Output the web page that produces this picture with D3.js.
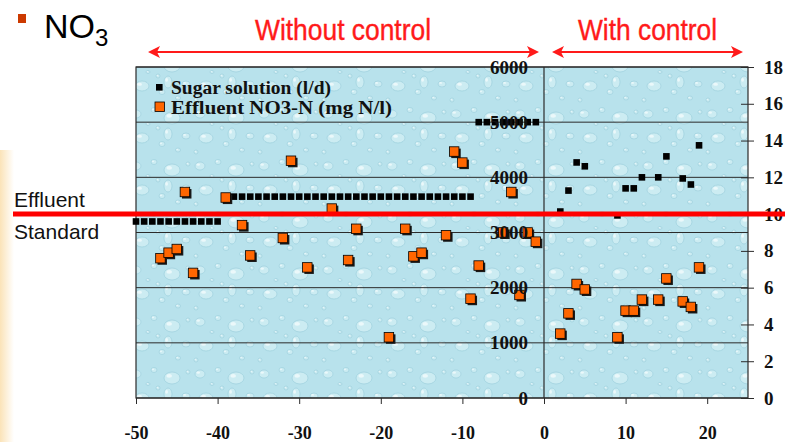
<!DOCTYPE html>
<html>
<head>
<meta charset="utf-8">
<script src="https://cdn.jsdelivr.net/npm/d3@7/dist/d3.min.js"></script>
<style>
    body { margin: 0; background: #fff; }
    svg { display: block; }
</style>
</head>
<body>
<svg id="chart" width="785" height="442"></svg>
<script>
// tick labels
var xTicks = [-50, -40, -30, -20, -10, 0, 10, 20];
var sugarTicks = [0, 1000, 2000, 3000, 4000, 5000, 6000];
var no3Ticks = [0, 2, 4, 6, 8, 10, 12, 14, 16, 18];

// sugar solution dosing (l/d), left axis
var sugarDays = [
    -50, -49, -48, -47, -46, -45, -44, -43, -42, -41, -40,
    -39, -38, -37, -36, -35, -34, -33, -32, -31, -30, -29, -28, -27, -26, -25,
    -24, -23, -22, -21, -20, -19, -18, -17, -16, -15, -14, -13, -12, -11, -10, -9,
    -8, -7, -6, -5, -4, -3, -2, -1,
    2, 3, 4, 5, 9, 10, 11, 12, 14, 15, 17, 18, 19
];
var sugarValues = [
    3200, 3200, 3200, 3200, 3200, 3200, 3200, 3200, 3200, 3200, 3200,
    3650, 3650, 3650, 3650, 3650, 3650, 3650, 3650, 3650, 3650, 3650, 3650, 3650, 3650, 3650,
    3650, 3650, 3650, 3650, 3650, 3650, 3650, 3650, 3650, 3650, 3650, 3650, 3650, 3650, 3650, 3650,
    5000, 5000, 5000, 5000, 5000, 5000, 5000, 5000,
    3380, 3760, 4270, 4200, 3310, 3800, 3800, 4000, 4000, 4380, 3980, 3870, 4580
];

// effluent NO3-N (mg N/l), right axis
var no3Days = [
    -47, -46, -45, -44, -43, -39, -37, -36, -32, -31, -29, -26, -24, -23, -19, -17,
    -16, -15, -12, -11, -10, -9, -8, -5, -4, -3, -2, -1,
    2, 3, 4, 5, 9, 10, 11, 12, 14, 15, 17, 18, 19
];
var no3Values = [
    7.6, 7.9, 8.1, 11.2, 6.8, 10.9, 9.4, 7.75, 8.7, 12.9, 7.1, 10.3, 7.5, 9.2, 3.3, 9.2,
    7.7, 7.9, 8.85, 13.4, 12.8, 5.4, 7.2, 9.0, 11.2, 5.6, 9.0, 8.5,
    3.5, 4.6, 6.2, 5.9, 3.3, 4.75, 4.75, 5.35, 5.35, 6.5, 5.25, 4.95, 7.1
];

var effluentStandard = 10;

var svg = d3.select('#chart'),
    serif = '"Liberation Serif", "Times New Roman", serif',
    sans = '"Liberation Sans", Arial, sans-serif',
    plotL = 136, plotR = 748, plotT = 67, plotB = 398;

var x = d3.scaleLinear().domain([-50, 25]).range([plotL, plotR]),
    yL = d3.scaleLinear().domain([0, 6000]).range([plotB, plotT]),
    yR = d3.scaleLinear().domain([0, 18]).range([plotB, plotT]);

var defs = svg.append('defs');

// faint slide background at the left edge
var lg = defs.append('linearGradient').attr('id', 'edge').attr('x1', 0).attr('x2', 1);
lg.append('stop').attr('offset', 0).attr('stop-color', '#fbe3b8');
lg.append('stop').attr('offset', 1).attr('stop-color', '#ffffff');
svg.append('rect').attr('x', 0).attr('y', 150).attr('width', 14).attr('height', 292)
    .attr('fill', 'url(#edge)');

// water drop texture for the plot area
var pat = defs.append('pattern').attr('id', 'drops')
    .attr('patternUnits', 'userSpaceOnUse').attr('width', 64).attr('height', 52);
pat.append('rect').attr('width', 64).attr('height', 52).attr('fill', '#b8e2ec');
[[8, 10, 5, 4], [26, 6, 3, 2.5], [44, 14, 8, 6], [58, 32, 4, 3], [14, 34, 7, 5],
 [34, 40, 3, 2.5], [50, 46, 2.5, 2], [4, 48, 2, 2], [30, 24, 2, 2], [20, 20, 2, 1.5],
 [40, 30, 4, 6], [60, 8, 2, 2]]
    .forEach(function (d) {
        pat.append('ellipse').attr('cx', d[0]).attr('cy', d[1]).attr('rx', d[2]).attr('ry', d[3])
            .attr('fill', '#d3eff5').attr('stroke', '#92c9d7').attr('stroke-width', 0.7)
            .attr('opacity', 0.75);
        pat.append('ellipse').attr('cx', d[0] - d[2] * 0.35).attr('cy', d[1] - d[3] * 0.35)
            .attr('rx', d[2] * 0.35).attr('ry', d[3] * 0.3).attr('fill', '#f2fbfd').attr('opacity', 0.8);
    });

svg.append('rect').attr('x', plotL).attr('y', plotT)
    .attr('width', plotR - plotL).attr('height', plotB - plotT)
    .attr('fill', 'url(#drops)');

// gridlines (left axis)
svg.append('g').selectAll('line').data(sugarTicks).join('line')
    .attr('x1', plotL).attr('x2', plotR)
    .attr('y1', function (d) { return yL(d); }).attr('y2', function (d) { return yL(d); })
    .attr('stroke', '#2b2b2b').attr('stroke-width', 1);

// frame + y axis at day 0
svg.append('rect').attr('x', plotL).attr('y', plotT)
    .attr('width', plotR - plotL).attr('height', plotB - plotT)
    .attr('fill', 'none').attr('stroke', '#2b2b2b').attr('stroke-width', 1.2);
svg.append('line').attr('x1', x(0)).attr('x2', x(0)).attr('y1', plotT).attr('y2', plotB)
    .attr('stroke', '#2b2b2b').attr('stroke-width', 1.2);

// x axis
var xAxis = svg.append('g').attr('transform', 'translate(0,' + plotB + ')')
    .call(d3.axisBottom(x).tickValues(xTicks).tickSize(6).tickFormat(function (d) { return String(d); }));
xAxis.select('.domain').remove();
xAxis.selectAll('line').attr('stroke', '#2b2b2b');
xAxis.selectAll('text').attr('y', 41).attr('dy', 0)
    .attr('font-family', serif).attr('font-weight', 'bold').attr('font-size', 18).attr('fill', '#111');

// right axis (NO3-N)
var rAxis = svg.append('g').attr('transform', 'translate(' + plotR + ',0)')
    .call(d3.axisRight(yR).tickValues(no3Ticks).tickSize(6).tickPadding(10));
rAxis.select('.domain').remove();
rAxis.selectAll('line').attr('x1', -7).attr('stroke', '#2b2b2b');
rAxis.selectAll('text').attr('font-family', serif).attr('font-weight', 'bold')
    .attr('font-size', 19).attr('fill', '#111');

// sugar solution
svg.append('g').selectAll('rect').data(sugarDays).join('rect')
    .attr('x', function (d) { return x(d) - 3.3; })
    .attr('y', function (d, i) { return yL(sugarValues[i]) - 3.3; })
    .attr('width', 6.6).attr('height', 6.6).attr('fill', '#000');

// effluent NO3-N with shadow
var no3 = svg.append('g').selectAll('g').data(no3Days).join('g')
    .attr('transform', function (d, i) { return 'translate(' + x(d) + ',' + yR(no3Values[i]) + ')'; });
no3.append('rect').attr('x', -3).attr('y', -3).attr('width', 9.5).attr('height', 9.5).attr('fill', '#1a1a1a');
no3.append('rect').attr('x', -4.8).attr('y', -4.8).attr('width', 9.5).attr('height', 9.5)
    .attr('fill', '#ff6600').attr('stroke', '#000').attr('stroke-width', 0.8);

// left axis labels, drawn at day 0
svg.append('g').selectAll('text').data(sugarTicks).join('text')
    .attr('x', x(0) - 16).attr('y', function (d) { return yL(d); }).attr('dy', '0.35em')
    .attr('text-anchor', 'end').attr('font-family', serif).attr('font-weight', 'bold')
    .attr('font-size', 19).attr('fill', '#111')
    .text(function (d) { return d; });

// legend
var legend = svg.append('g').attr('font-family', serif).attr('font-weight', 'bold')
    .attr('font-size', 18).attr('fill', '#111');
legend.append('rect').attr('x', 156).attr('y', 84).attr('width', 6.6).attr('height', 6.6).attr('fill', '#000');
legend.append('text').attr('x', 171).attr('y', 94).attr('textLength', 160)
    .attr('lengthAdjust', 'spacingAndGlyphs').text('Sugar solution (l/d)');
legend.append('rect').attr('x', 155).attr('y', 102).attr('width', 9.5).attr('height', 9.5)
    .attr('fill', '#ff6600').attr('stroke', '#000').attr('stroke-width', 0.8);
legend.append('text').attr('x', 171).attr('y', 114).attr('textLength', 221)
    .attr('lengthAdjust', 'spacingAndGlyphs').text('Effluent NO3-N (mg N/l)');

// heading
svg.append('rect').attr('x', 18).attr('y', 14).attr('width', 8).attr('height', 9).attr('fill', '#cc3a00');
var title = svg.append('text').attr('x', 44).attr('y', 38).attr('font-family', sans)
    .attr('font-size', 34).attr('fill', '#000');
title.append('tspan').text('NO');
title.append('tspan').attr('font-size', 24).attr('dy', 8).text('3');

// periods
function arrow(xa, xb, yy) {
    var g = svg.append('g').attr('fill', '#ff1a1a').attr('stroke', '#ff1a1a');
    g.append('line').attr('x1', xa + 4).attr('x2', xb - 4).attr('y1', yy).attr('y2', yy).attr('stroke-width', 2);
    g.append('path').attr('stroke', 'none')
        .attr('d', 'M' + xa + ',' + yy + 'l12,-6l-3,6l3,6z');
    g.append('path').attr('stroke', 'none')
        .attr('d', 'M' + xb + ',' + yy + 'l-12,-6l3,6l-3,6z');
}
arrow(148, 539, 52);
arrow(552, 743, 52);
svg.append('text').attr('x', 255).attr('y', 40).attr('textLength', 176)
    .attr('lengthAdjust', 'spacingAndGlyphs').attr('font-family', sans).attr('font-size', 30)
    .attr('stroke', '#ff1a1a').attr('stroke-width', 0.4)
    .attr('fill', '#ff1a1a').text('Without control');
svg.append('text').attr('x', 578).attr('y', 40).attr('textLength', 139)
    .attr('lengthAdjust', 'spacingAndGlyphs').attr('font-family', sans).attr('font-size', 30)
    .attr('stroke', '#ff1a1a').attr('stroke-width', 0.4)
    .attr('fill', '#ff1a1a').text('With control');

// effluent standard
svg.append('text').attr('x', 14).attr('y', 207).attr('font-family', sans)
    .attr('font-size', 21).attr('fill', '#111').text('Effluent');
svg.append('text').attr('x', 14).attr('y', 239).attr('font-family', sans)
    .attr('font-size', 21).attr('fill', '#111').text('Standard');
svg.append('line').attr('x1', 13).attr('x2', 785)
    .attr('y1', yR(effluentStandard)).attr('y2', yR(effluentStandard))
    .attr('stroke', '#ff0000').attr('stroke-width', 5);
</script>
</body>
</html>
